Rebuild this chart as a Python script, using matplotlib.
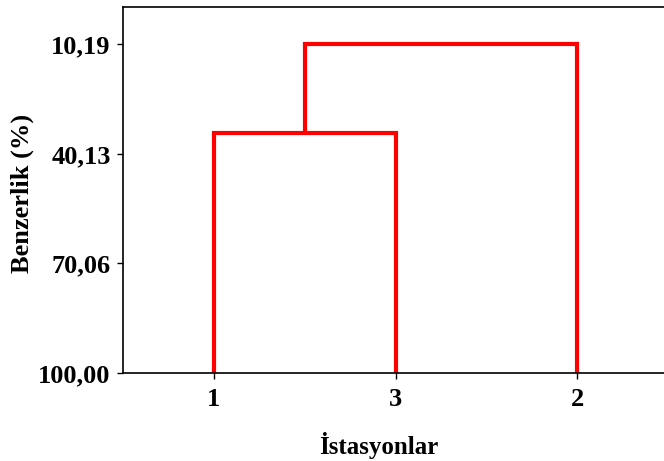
import matplotlib
matplotlib.use("Agg")
import matplotlib.pyplot as plt

# dendrogram data (leaf order as drawn, similarity %)
leaf_labels = ['1', '3', '2']
leaf_pos = [1, 2, 3]
sim_1_3 = 34.46      # station 1 + station 3
sim_13_2 = 10.19     # (1,3) + station 2
ytick_vals = [10.19, 40.13, 70.06, 100.00]
ytick_labels = ['10,19', '40,13', '70,06', '100,00']

plt.rcParams['font.family'] = ['Liberation Serif', 'DejaVu Serif']
plt.rcParams['font.weight'] = 'bold'

fig = plt.figure(figsize=(6.64, 4.61), dpi=100)
ax = fig.add_axes([123 / 664, 88 / 461, 545 / 664, 366 / 461])

red = '#ff0000'
lw = 3.0
kw = dict(color=red, lw=lw, solid_joinstyle='miter', solid_capstyle='butt')

# first link: 1 and 3
x1, x3 = leaf_pos[0], leaf_pos[1]
ax.plot([x1, x1, x3, x3], [100, sim_1_3, sim_1_3, 100], **kw)
# second link: cluster(1,3) and 2
xc = (x1 + x3) / 2
x2 = leaf_pos[2]
ax.plot([xc, xc, x2, x2], [sim_1_3, sim_13_2, sim_13_2, 100], **kw)

ax.set_xlim(0.5, 3.5)
ax.set_ylim(100, 0)
ax.set_xticks(leaf_pos)
ax.set_xticklabels(leaf_labels)
ax.set_yticks(ytick_vals)
ax.set_yticklabels(ytick_labels)

ax.spines['right'].set_visible(False)
for s in ['left', 'top', 'bottom']:
    ax.spines[s].set_linewidth(1.2)
ax.tick_params(direction='out', length=4, width=1, labelsize=19, pad=5)
ax.tick_params(axis='x', pad=7)

ax.set_xlabel('İstasyonlar', fontsize=18, fontweight='bold')
ax.set_ylabel('Benzerlik (%)', fontsize=19, fontweight='bold')
ax.xaxis.set_label_coords(0.47, -0.162)
ax.yaxis.set_label_coords(-0.163, 0.49)

fig.savefig('out.png', dpi=100)
